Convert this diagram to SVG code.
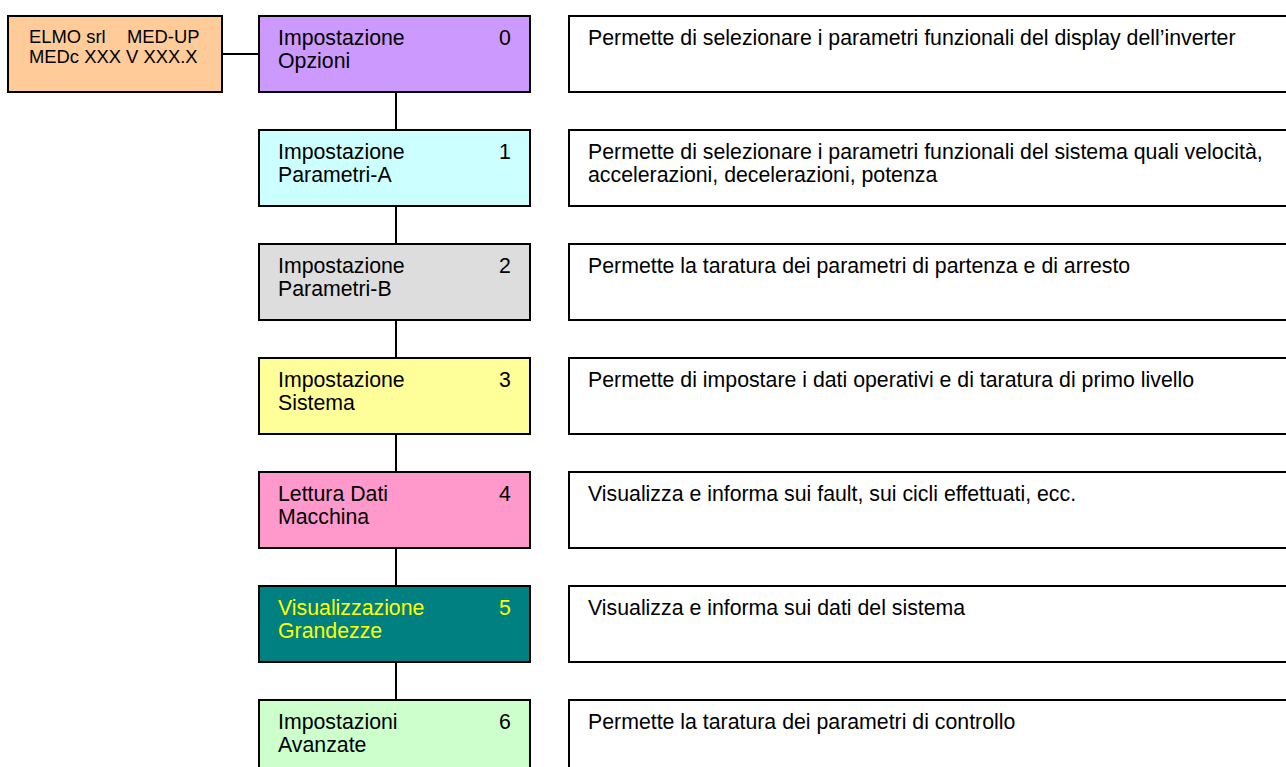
<svg xmlns="http://www.w3.org/2000/svg" width="1286" height="767" viewBox="0 0 1286 767">
<style>
.b{stroke:#000;stroke-width:2}
.t{font-family:"Liberation Sans",Arial,sans-serif;font-size:21.3px;fill:#000}
.s{font-family:"Liberation Sans",Arial,sans-serif;font-size:18.4px;fill:#000}
.y{fill:#FFFF00}
.c{stroke:#000;stroke-width:2;fill:none}
</style>
<rect width="1286" height="767" fill="#fff"/>
<g id="connectors">
<line class="c" x1="222" y1="54" x2="259" y2="54"/>
<line class="c" x1="396" y1="92" x2="396" y2="130"/>
<line class="c" x1="396" y1="206" x2="396" y2="244"/>
<line class="c" x1="396" y1="320" x2="396" y2="358"/>
<line class="c" x1="396" y1="434" x2="396" y2="472"/>
<line class="c" x1="396" y1="548" x2="396" y2="586"/>
<line class="c" x1="396" y1="662" x2="396" y2="700"/>
</g>
<g id="header">
<rect class="b" x="8" y="16" width="214" height="76" fill="#FFCC99"/>
<text class="s" x="29" y="43">ELMO srl</text><text class="s" x="127" y="43">MED-UP</text>
<text class="s" x="29" y="63">MEDc XXX V XXX.X</text>
</g>
<g id="n0">
<rect class="b" x="259" y="16" width="271" height="76" fill="#CC99FF"/>
<text class="t" x="278" y="45">Impostazione</text><text class="t" x="499" y="45">0</text>
<text class="t" x="278" y="68">Opzioni</text>
</g>
<g id="n1">
<rect class="b" x="259" y="130" width="271" height="76" fill="#CCFFFF"/>
<text class="t" x="278" y="159">Impostazione</text><text class="t" x="499" y="159">1</text>
<text class="t" x="278" y="182">Parametri-A</text>
</g>
<g id="n2">
<rect class="b" x="259" y="244" width="271" height="76" fill="#DDDDDD"/>
<text class="t" x="278" y="273">Impostazione</text><text class="t" x="499" y="273">2</text>
<text class="t" x="278" y="296">Parametri-B</text>
</g>
<g id="n3">
<rect class="b" x="259" y="358" width="271" height="76" fill="#FFFF99"/>
<text class="t" x="278" y="387">Impostazione</text><text class="t" x="499" y="387">3</text>
<text class="t" x="278" y="410">Sistema</text>
</g>
<g id="n4">
<rect class="b" x="259" y="472" width="271" height="76" fill="#FF99CC"/>
<text class="t" x="278" y="501">Lettura Dati</text><text class="t" x="499" y="501">4</text>
<text class="t" x="278" y="524">Macchina</text>
</g>
<g id="n5">
<rect class="b" x="259" y="586" width="271" height="76" fill="#008080"/>
<text class="t y" x="278" y="615">Visualizzazione</text><text class="t y" x="499" y="615">5</text>
<text class="t y" x="278" y="638">Grandezze</text>
</g>
<g id="n6">
<rect class="b" x="259" y="700" width="271" height="76" fill="#CCFFCC"/>
<text class="t" x="278" y="729">Impostazioni</text><text class="t" x="499" y="729">6</text>
<text class="t" x="278" y="752">Avanzate</text>
</g>
<g id="d0"><rect class="b" x="569" y="16" width="730" height="76" fill="#fff"/>
<text class="t" x="588" y="45">Permette di selezionare i parametri funzionali del display dell’inverter</text></g>
<g id="d1"><rect class="b" x="569" y="130" width="730" height="76" fill="#fff"/>
<text class="t" x="588" y="159">Permette di selezionare i parametri funzionali del sistema quali velocità,</text>
<text class="t" x="588" y="182">accelerazioni, decelerazioni, potenza</text></g>
<g id="d2"><rect class="b" x="569" y="244" width="730" height="76" fill="#fff"/>
<text class="t" x="588" y="273">Permette la taratura dei parametri di partenza e di arresto</text></g>
<g id="d3"><rect class="b" x="569" y="358" width="730" height="76" fill="#fff"/>
<text class="t" x="588" y="387">Permette di impostare i dati operativi e di taratura di primo livello</text></g>
<g id="d4"><rect class="b" x="569" y="472" width="730" height="76" fill="#fff"/>
<text class="t" x="588" y="501">Visualizza e informa sui fault, sui cicli effettuati, ecc.</text></g>
<g id="d5"><rect class="b" x="569" y="586" width="730" height="76" fill="#fff"/>
<text class="t" x="588" y="615">Visualizza e informa sui dati del sistema</text></g>
<g id="d6"><rect class="b" x="569" y="700" width="730" height="76" fill="#fff"/>
<text class="t" x="588" y="729">Permette la taratura dei parametri di controllo</text></g>
</svg>
